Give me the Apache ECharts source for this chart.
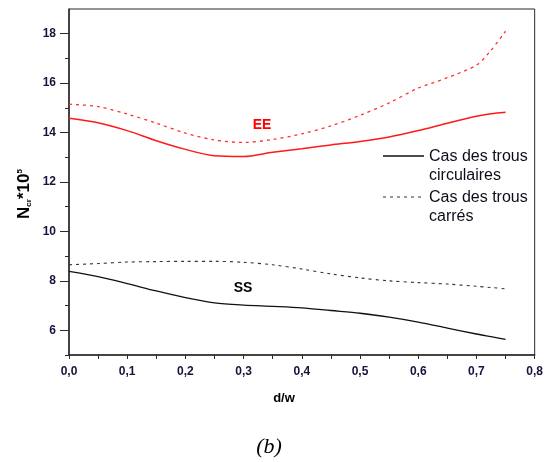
<!DOCTYPE html>
<html>
<head>
<meta charset="utf-8">
<script src="https://cdn.jsdelivr.net/npm/echarts@6/dist/echarts.min.js"></script>
<style>
  html, body { margin: 0; padding: 0; background: #fff; }
  #chart { width: 546px; height: 462px; }
</style>
</head>
<body>
<div id="chart"></div>
<script>
// d/w ratio of the sampled points
const dW = [0, 0.05, 0.10, 0.15, 0.20, 0.25, 0.30, 0.35, 0.40, 0.45, 0.50, 0.55, 0.60, 0.65, 0.70, 0.725, 0.75];

// N_cr * 10^5 — EE boundary conditions
const eeCircular = [14.58, 14.40, 14.08, 13.67, 13.32, 13.06, 13.03, 13.20, 13.35, 13.50, 13.64, 13.82, 14.08, 14.38, 14.66, 14.76, 14.82];
const eeSquare   = [15.15, 15.05, 14.75, 14.38, 13.98, 13.70, 13.60, 13.72, 13.95, 14.27, 14.70, 15.20, 15.80, 16.22, 16.73, 17.33, 18.10];

// N_cr * 10^5 — SS boundary conditions
const ssCircular = [8.38, 8.17, 7.89, 7.59, 7.32, 7.11, 7.02, 6.97, 6.91, 6.80, 6.69, 6.53, 6.33, 6.09, 5.85, 5.74, 5.63];
const ssSquare   = [8.65, 8.70, 8.76, 8.78, 8.79, 8.79, 8.75, 8.65, 8.48, 8.28, 8.12, 8.00, 7.93, 7.87, 7.78, 7.73, 7.68];

// Axis tick labels
const xTickLabels = [0, 0.1, 0.2, 0.3, 0.4, 0.5, 0.6, 0.7, 0.8];
const yTickLabels = [6, 8, 10, 12, 14, 16, 18];
const yMinorTicks = [5, 7, 9, 11, 13, 15, 17];

const legendCircular = ['Cas des trous', 'circulaires'];
const legendSquare = ['Cas des trous', 'carrés'];

const FONT = 'Liberation Sans, Arial, sans-serif';
const AXIS_COLOR = '#2a2a2a';
const LABEL_COLOR = '#14143c';

const pairs = (ys) => ys.map((y, i) => [dW[i], y]);

const chart = echarts.init(document.getElementById('chart'), null, { renderer: 'canvas' });

const lineSeries = (name, ys, color, dashed, width) => ({
  name,
  type: 'line',
  data: pairs(ys),
  smooth: 0.3,
  showSymbol: false,
  symbol: 'none',
  animation: false,
  lineStyle: { color, width, type: dashed ? [3, 4] : 'solid' },
  z: 3
});

chart.setOption({
  backgroundColor: '#fff',
  animation: false,
  grid: {
    left: 69, right: 7, top: 9, bottom: 107,
    show: true, borderColor: AXIS_COLOR, borderWidth: 1, backgroundColor: 'transparent'
  },
  xAxis: {
    type: 'value',
    min: 0, max: 0.8, interval: 0.05,
    axisLine: { show: true, lineStyle: { color: AXIS_COLOR, width: 1.5 } },
    axisTick: { show: true, length: 4, lineStyle: { color: AXIS_COLOR, width: 1 } },
    splitLine: { show: false },
    axisLabel: {
      customValues: xTickLabels,
      margin: 11,
      fontFamily: FONT, fontSize: 12, fontWeight: 'bold', color: LABEL_COLOR,
      formatter: (v) => v.toFixed(1).replace('.', ',')
    }
  },
  yAxis: [
    {
      type: 'value',
      min: 5, max: 19, interval: 1,
      axisLine: { show: true, lineStyle: { color: AXIS_COLOR, width: 1.5 } },
      axisTick: { show: true, customValues: yTickLabels, length: 9, lineStyle: { color: AXIS_COLOR, width: 1 } },
      splitLine: { show: false },
      axisLabel: {
        customValues: yTickLabels,
        margin: 13,
        fontFamily: FONT, fontSize: 12, fontWeight: 'bold', color: LABEL_COLOR
      }
    },
    {
      type: 'value',
      min: 5, max: 19, interval: 1,
      position: 'left',
      axisLine: { show: false },
      axisTick: { show: true, customValues: yMinorTicks, length: 4, lineStyle: { color: AXIS_COLOR, width: 1 } },
      splitLine: { show: false },
      axisLabel: { show: false }
    }
  ],
  series: [
    lineSeries('EE circulaires', eeCircular, '#ff1a1a', false, 1.5),
    lineSeries('EE carrés', eeSquare, '#ff3030', true, 1.3),
    lineSeries('SS circulaires', ssCircular, '#111111', false, 1.3),
    lineSeries('SS carrés', ssSquare, '#333333', true, 1.1)
  ],
  graphic: [
    // y-axis title: N_cr * 10^5
    {
      type: 'text',
      x: 24, y: 194,
      rotation: Math.PI / 2,
      style: {
        text: '{n|N}{sub|cr}{n|*10}{sup|5}',
        align: 'center', verticalAlign: 'middle',
        rich: {
          n: { fontFamily: FONT, fontSize: 17, fontWeight: 'bold', fill: '#000' },
          sub: { fontFamily: FONT, fontSize: 8, fontWeight: 'bold', fill: '#000', verticalAlign: 'bottom', padding: [8, 0, 0, 0] },
          sup: { fontFamily: FONT, fontSize: 8, fontWeight: 'bold', fill: '#000', verticalAlign: 'top', padding: [0, 0, 8, 0] }
        }
      }
    },
    // x-axis title
    {
      type: 'text', x: 284, y: 398,
      style: { text: 'd/w', fontFamily: FONT, fontSize: 13, fontWeight: 'bold', fill: '#000', align: 'center', verticalAlign: 'middle' }
    },
    // panel caption
    {
      type: 'text', x: 269, y: 447,
      style: { text: '(b)', fontFamily: 'Liberation Serif, Times New Roman, serif', fontSize: 22, fontStyle: 'italic', fill: '#000', align: 'center', verticalAlign: 'middle' }
    },
    // curve-family annotations
    {
      type: 'text', x: 262, y: 125,
      style: { text: 'EE', fontFamily: FONT, fontSize: 14, fontWeight: 'bold', fill: '#ff0000', align: 'center', verticalAlign: 'middle' }
    },
    {
      type: 'text', x: 243, y: 288,
      style: { text: 'SS', fontFamily: FONT, fontSize: 14, fontWeight: 'bold', fill: '#000', align: 'center', verticalAlign: 'middle' }
    },
    // legend
    {
      type: 'line', shape: { x1: 383, y1: 156, x2: 424, y2: 156 },
      style: { stroke: '#111', lineWidth: 1.3 }
    },
    {
      type: 'text', x: 429, y: 156,
      style: { text: legendCircular.join('\n'), fontFamily: FONT, fontSize: 16, lineHeight: 19, fill: '#0d0d1a', align: 'left', verticalAlign: 'top', padding: [-9, 0, 0, 0] }
    },
    {
      type: 'line', shape: { x1: 383, y1: 197, x2: 424, y2: 197 },
      style: { stroke: '#333', lineWidth: 1.1, lineDash: [3, 4] }
    },
    {
      type: 'text', x: 429, y: 197,
      style: { text: legendSquare.join('\n'), fontFamily: FONT, fontSize: 16, lineHeight: 19, fill: '#0d0d1a', align: 'left', verticalAlign: 'top', padding: [-9, 0, 0, 0] }
    }
  ]
});
</script>
</body>
</html>
